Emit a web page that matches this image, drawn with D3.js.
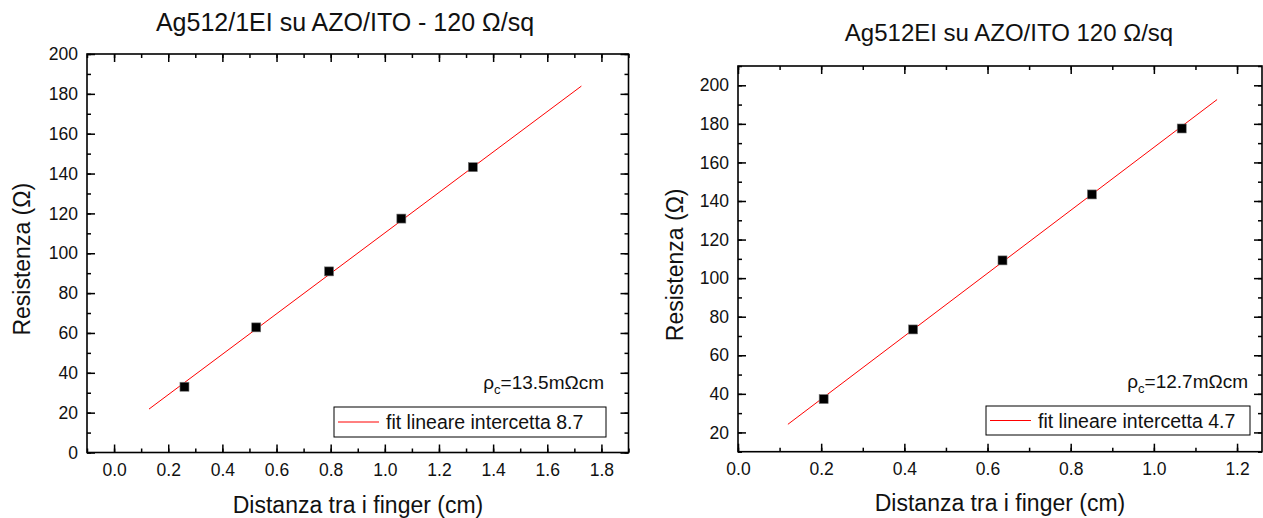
<!DOCTYPE html>
<html>
<head>
<meta charset="utf-8">
<script src="https://cdn.jsdelivr.net/npm/d3@7"></script>
<style>
  body { margin: 0; background: #fff; }
  svg { display: block; font-family: "Liberation Sans", Arial, sans-serif; }
</style>
</head>
<body>
<svg id="chart" width="1263" height="518"></svg>
<script>
// left panel data
var leftTitle = 'Ag512/1EI su AZO/ITO - 120 \u03A9/sq'
var leftX = [0.26, 0.525, 0.794, 1.061, 1.325]
var leftY = [33.0, 62.8, 90.9, 117.4, 143.2]
var leftFitX = [0.129, 1.726]
var leftFitY = [21.8, 183.9]
var leftXTicks = [0.0, 0.2, 0.4, 0.6, 0.8, 1.0, 1.2, 1.4, 1.6, 1.8]
var leftYTicks = [0, 20, 40, 60, 80, 100, 120, 140, 160, 180, 200]
var leftLegend = 'fit lineare intercetta 8.7'
var leftRho = '=13.5m\u03A9cm'

// right panel data
var rightTitle = 'Ag512EI su AZO/ITO 120 \u03A9/sq'
var rightX = [0.206, 0.421, 0.636, 0.851, 1.067]
var rightY = [37.3, 73.4, 109.2, 143.4, 177.6]
var rightFitX = [0.120, 1.152]
var rightFitY = [24.2, 192.6]
var rightXTicks = [0.0, 0.2, 0.4, 0.6, 0.8, 1.0, 1.2]
var rightYTicks = [20, 40, 60, 80, 100, 120, 140, 160, 180, 200]
var rightLegend = 'fit lineare intercetta 4.7'
var rightRho = '=12.7m\u03A9cm'

var yLabel = 'Resistenza (\u03A9)'
var xLabel = 'Distanza tra i finger (cm)'

var svg = d3.select('#chart')

var panels = [
  {
    title: leftTitle, xs: leftX, ys: leftY, fitX: leftFitX, fitY: leftFitY,
    xTicks: leftXTicks, yTicks: leftYTicks, legend: leftLegend, rho: leftRho,
    xDomain: [-0.1, 1.9], yDomain: [0, 200],
    left: 87, right: 628.5, top: 54, bottom: 452.5,
    titleX: 345, titleY: 31, titleSize: 25,
    yLabelX: 30, xLabelX: 358, xLabelY: 513,
    legendBox: [334, 407, 272, 30], rhoX: 604, rhoY: 389
  },
  {
    title: rightTitle, xs: rightX, ys: rightY, fitX: rightFitX, fitY: rightFitY,
    xTicks: rightXTicks, yTicks: rightYTicks, legend: rightLegend, rho: rightRho,
    xDomain: [0, 1.26], yDomain: [10, 210],
    left: 738, right: 1262, top: 66, bottom: 451.7,
    titleX: 1009, titleY: 41, titleSize: 24,
    yLabelX: 683, xLabelX: 1000, xLabelY: 511,
    legendBox: [986, 406, 264, 29], rhoX: 1248, rhoY: 388
  }
]

function styleAxis(sel) {
  sel.attr('font-family', null).attr('font-size', 17.5)
  sel.select('.domain').remove()
  sel.selectAll('.tick line').attr('stroke', '#000').attr('stroke-width', 1.5)
  sel.selectAll('.tick text').attr('fill', '#111')
}

function drawPanel(p) {
  var x = d3.scaleLinear().domain(p.xDomain).range([p.left, p.right])
  var y = d3.scaleLinear().domain(p.yDomain).range([p.bottom, p.top])
  var g = svg.append('g')

  var xMinor = d3.range(Math.ceil(p.xDomain[0] * 10 - 1e-6), Math.floor(p.xDomain[1] * 10 + 1e-6) + 1).map(function (d) { return d / 10 })
  var yMinor = d3.range(p.yDomain[0], p.yDomain[1] + 1, 10)

  // minor ticks on all four sides
  g.append('g').attr('transform', 'translate(0,' + p.bottom + ')')
    .call(d3.axisBottom(x).tickValues(xMinor).tickSize(-4).tickFormat('')).call(styleAxis)
  g.append('g').attr('transform', 'translate(0,' + p.top + ')')
    .call(d3.axisTop(x).tickValues(xMinor).tickSize(-4).tickFormat('')).call(styleAxis)
  g.append('g').attr('transform', 'translate(' + p.left + ',0)')
    .call(d3.axisLeft(y).tickValues(yMinor).tickSize(-4).tickFormat('')).call(styleAxis)
  g.append('g').attr('transform', 'translate(' + p.right + ',0)')
    .call(d3.axisRight(y).tickValues(yMinor).tickSize(-4).tickFormat('')).call(styleAxis)

  // major ticks
  g.append('g').attr('transform', 'translate(0,' + p.bottom + ')')
    .call(d3.axisBottom(x).tickValues(p.xTicks).tickSize(-8).tickPadding(11).tickFormat(d3.format('.1f'))).call(styleAxis)
  g.append('g').attr('transform', 'translate(0,' + p.top + ')')
    .call(d3.axisTop(x).tickValues(p.xTicks).tickSize(-8).tickFormat('')).call(styleAxis)
  g.append('g').attr('transform', 'translate(' + p.left + ',0)')
    .call(d3.axisLeft(y).tickValues(p.yTicks).tickSize(-8).tickPadding(9).tickFormat(d3.format('d'))).call(styleAxis)
  g.append('g').attr('transform', 'translate(' + p.right + ',0)')
    .call(d3.axisRight(y).tickValues(p.yTicks).tickSize(-8).tickFormat('')).call(styleAxis)

  // frame
  g.append('rect')
    .attr('x', p.left).attr('y', p.top)
    .attr('width', p.right - p.left).attr('height', p.bottom - p.top)
    .attr('fill', 'none').attr('stroke', '#000').attr('stroke-width', 1.6)

  // fit line
  var fit = p.fitX.map(function (d, i) { return [d, p.fitY[i]] })
  g.append('path')
    .datum(fit)
    .attr('d', d3.line().x(function (d) { return x(d[0]) }).y(function (d) { return y(d[1]) }))
    .attr('fill', 'none').attr('stroke', '#ff0000').attr('stroke-width', 1)

  // points
  var pts = p.xs.map(function (d, i) { return [d, p.ys[i]] })
  g.selectAll('rect.pt').data(pts).enter().append('rect')
    .attr('class', 'pt')
    .attr('x', function (d) { return x(d[0]) - 4.5 })
    .attr('y', function (d) { return y(d[1]) - 4.5 })
    .attr('width', 9).attr('height', 9)
    .attr('fill', '#000').attr('stroke', '#777').attr('stroke-width', 0.6)

  // legend
  var lb = p.legendBox
  g.append('rect')
    .attr('x', lb[0]).attr('y', lb[1]).attr('width', lb[2]).attr('height', lb[3])
    .attr('fill', '#fff').attr('stroke', '#000').attr('stroke-width', 1)
  var ly = lb[1] + lb[3] / 2
  g.append('line')
    .attr('x1', lb[0] + 4).attr('x2', lb[0] + 45).attr('y1', ly).attr('y2', ly)
    .attr('stroke', '#ff0000').attr('stroke-width', 1)
  g.append('text')
    .attr('x', lb[0] + 52).attr('y', ly + 7)
    .attr('font-size', 19.5).attr('fill', '#111')
    .text(p.legend)

  // rho_c annotation
  var rt = g.append('text')
    .attr('x', p.rhoX).attr('y', p.rhoY)
    .attr('text-anchor', 'end').attr('font-size', 19).attr('fill', '#111')
  rt.append('tspan').text('\u03C1')
  rt.append('tspan').attr('font-size', 13).attr('dy', 5).text('c')
  rt.append('tspan').attr('dy', -5).text(p.rho)

  // titles
  g.append('text')
    .attr('x', p.titleX).attr('y', p.titleY)
    .attr('text-anchor', 'middle').attr('font-size', p.titleSize).attr('fill', '#111')
    .text(p.title)
  g.append('text')
    .attr('transform', 'translate(' + p.yLabelX + ',' + ((p.top + p.bottom) / 2 + 6) + ') rotate(-90)')
    .attr('text-anchor', 'middle').attr('font-size', 23).attr('fill', '#111')
    .text(yLabel)
  g.append('text')
    .attr('x', p.xLabelX).attr('y', p.xLabelY)
    .attr('text-anchor', 'middle').attr('font-size', 23).attr('fill', '#111')
    .text(xLabel)
}

panels.forEach(drawPanel)
</script>
</body>
</html>
